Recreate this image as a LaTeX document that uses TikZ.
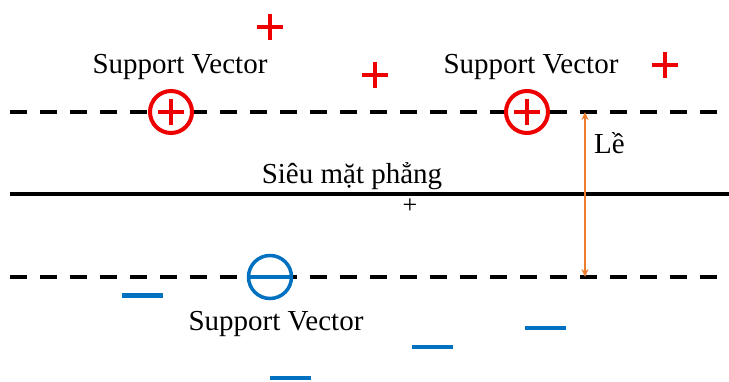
\documentclass[tikz,border=0pt]{standalone}
\usepackage{fontspec}
\setmainfont{Liberation Serif}
\usetikzlibrary{arrows.meta}
\definecolor{pred}{RGB}{238,0,0}
\definecolor{mblue}{RGB}{0,112,192}
\definecolor{morange}{RGB}{237,125,49}
\tikzset{
  dashline/.style={line width=3.5pt, dash pattern=on 17pt off 13pt},
  solidline/.style={line width=3.5pt},
  pluscirc/.style={circle, draw=pred, line width=4pt, minimum size=42pt, inner sep=0pt},
  minuscirc/.style={circle, draw=mblue, line width=3.5pt, minimum size=43pt, inner sep=0pt},
  plusbar/.style={draw=pred, line width=4pt},
  minusbar/.style={draw=mblue, line width=4.5pt},
  lbl/.style={font=\fontsize{29}{32}\selectfont, inner sep=0pt},
  marginarrow/.style={draw=morange, line width=1.5pt, {Stealth[length=8pt,width=7pt]}-{Stealth[length=8pt,width=7pt]}}
}
\begin{document}
\begin{tikzpicture}[x=1pt,y=-1pt]
\useasboundingbox (0,0) rectangle (729,382);
% lines
\coordinate (t1) at (10,112); \coordinate (t2) at (729,112);
\coordinate (m1) at (10,194); \coordinate (m2) at (729,194);
\coordinate (b1) at (10,277); \coordinate (b2) at (729,277);
\draw[dashline] (t1) -- (t2);
\draw[solidline] (m1) -- (m2);
\draw[dashline] (b1) -- (b2);
% support vectors (plus)
\node[pluscirc, fill=white] (sv1) at (171,112) {};
\node[pluscirc, fill=white] (sv2) at (527,112) {};
\draw[plusbar] ([xshift=-13pt]sv1.center) -- ([xshift=13pt]sv1.center);
\draw[plusbar] ([yshift=-13pt]sv1.center) -- ([yshift=13pt]sv1.center);
\draw[plusbar] ([xshift=-13pt]sv2.center) -- ([xshift=13pt]sv2.center);
\draw[plusbar] ([yshift=-13pt]sv2.center) -- ([yshift=13pt]sv2.center);
% support vector (minus)
\node[minuscirc, fill=white] (sv3) at (270,277) {};
\draw[minusbar] (sv3.west) -- (sv3.east);
% free plus points
\foreach \n/\x/\y in {p1/270/27, p2/375/75, p3/665/65}{
  \coordinate (\n) at (\x,\y);
  \draw[plusbar] ([xshift=-13pt]\n) -- ([xshift=13pt]\n);
  \draw[plusbar] ([yshift=-13pt]\n) -- ([yshift=13pt]\n);
}
% free minus points
\foreach \n/\x/\y in {n1/142/295.5, n2/545/328, n3/432.5/347, n4/290.5/378}{
  \coordinate (\n) at (\x,\y);
  \draw[minusbar] ([xshift=-20.5pt]\n) -- ([xshift=20.5pt]\n);
}
% labels
\node[lbl] (l1) at (180,67) {Support Vector};
\node[lbl] (l2) at (531,67) {Support Vector};
\node[lbl] (l3) at (276,324) {Support Vector};
\node[lbl] (hp) at (352,176) {Siêu mặt phẳng};
\node[font=\fontsize{26}{28}\selectfont, inner sep=0pt] (pt) at (410,206) {+};
\node[lbl, anchor=west] (le) at (594,143) {Lề};
% margin arrow
\coordinate (a1) at (585,112); \coordinate (a2) at (585,277);
\draw[marginarrow] (a1) -- (a2);
\end{tikzpicture}
\end{document}
